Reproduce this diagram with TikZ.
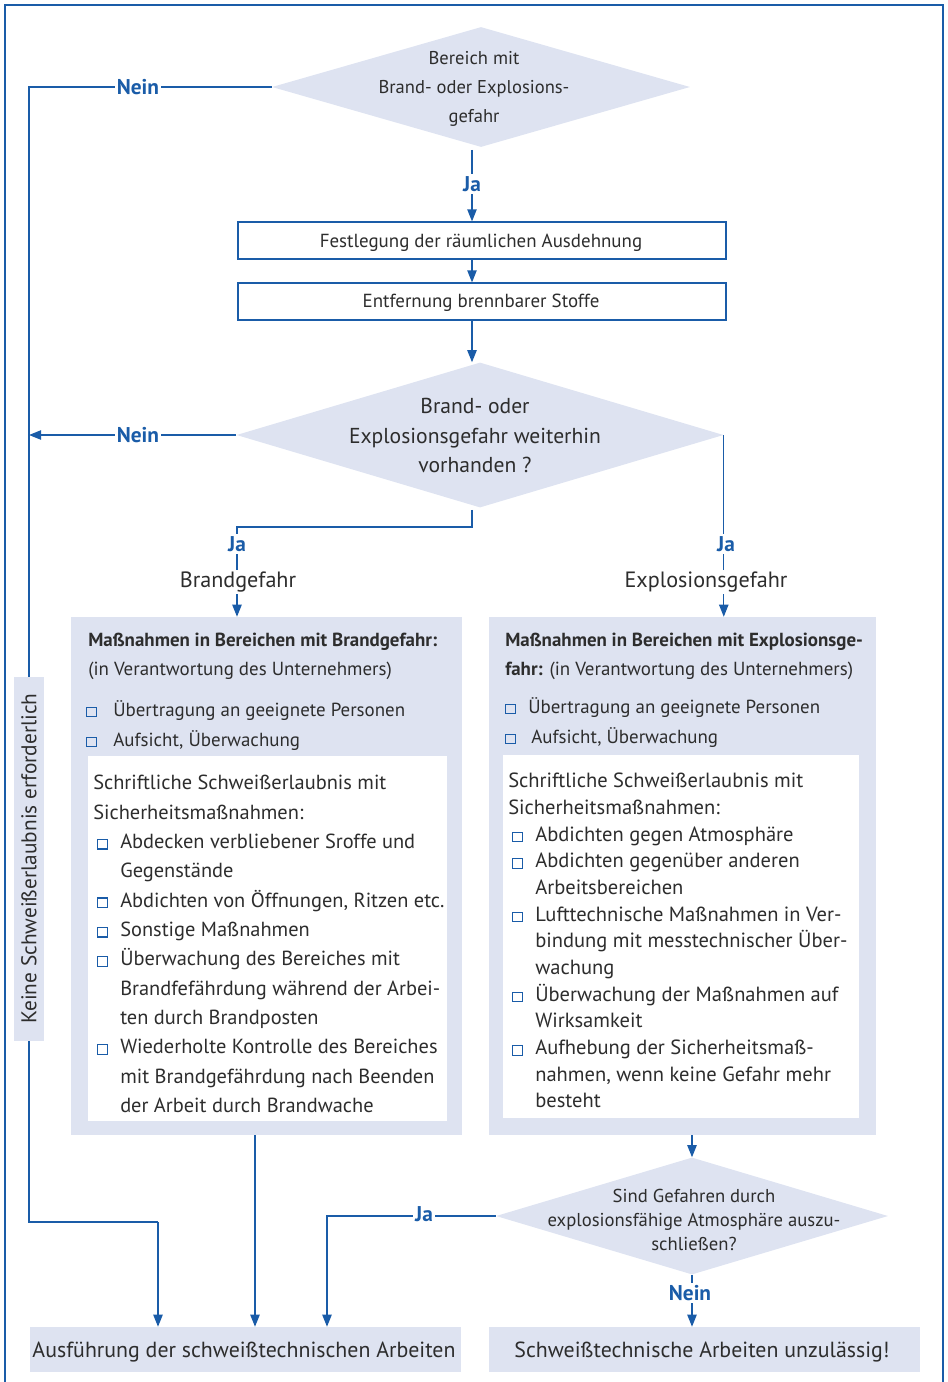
\documentclass[tikz,border=0pt]{standalone}
\usepackage{fontspec}
\setmainfont{PT Sans}
\usetikzlibrary{shapes.geometric,arrows.meta}

\definecolor{lineblue}{RGB}{26,92,168}
\definecolor{boxfill}{RGB}{222,227,241}
\definecolor{txtgray}{RGB}{45,45,45}

% open square bullet
\newcommand{\bx}{\textcolor{lineblue}{\fboxsep=0pt\fboxrule=0.9pt\fbox{\rule{0pt}{6.4pt}\rule{6.4pt}{0pt}}}}
\newcommand{\sqi}[1]{\makebox[#1][l]{\bx}}
\newcommand{\itm}{\hspace*{3pt}\sqi{17.25pt}}
\newcommand{\gap}{\hspace*{20.25pt}}

\tikzset{
  decision/.style={diamond, fill=boxfill, inner sep=0pt},
  stepbox/.style={rectangle, draw=lineblue, line width=0.9pt, fill=white, inner sep=0pt},
  panel/.style={rectangle, fill=boxfill, inner sep=0pt},
  sheet/.style={rectangle, fill=white, inner sep=0pt},
  txt/.style={text=txtgray, inner sep=0pt, align=center},
  lefttxt/.style={text=txtgray, inner sep=0pt, align=left, anchor=north west},
  yn/.style={text=lineblue, font=\fontsize{16}{18}\selectfont\bfseries, fill=white, inner sep=1.5pt},
  onwire/.style={text=txtgray, font=\fontsize{16.6}{19}\selectfont, fill=white, inner sep=1pt},
  conn/.style={draw=lineblue, line width=0.9pt},
  arr/.style={conn, -{Triangle[length=9pt,width=7pt]}},
  frame/.style={draw=lineblue, line width=2.2pt}
}

\begin{document}
\begin{tikzpicture}[x=0.75pt,y=0.75pt,yscale=-1,xscale=1]
\useasboundingbox (0,0) rectangle (948,1382);

% Frame
\draw[frame] (5,1382) -- (5,5) -- (943,5) -- (943,1382);

% Decision: Bereich mit Brand- oder Explosionsgefahr
\node[decision, minimum width=313.5pt, minimum height=90pt] (d1) at (481,87) {};
\node[txt, font=\fontsize{13.9}{22}\selectfont] (d1t) at (474,89) {Bereich mit\\Brand- oder Explosions-\\gefahr};

% Steps
\node[stepbox, minimum width=366pt, minimum height=27.75pt] (b1) at (482,240.5) {};
\node[txt, font=\fontsize{14.2}{16}\selectfont] (b1t) at (481,243) {Festlegung der räumlichen Ausdehnung};
\node[stepbox, minimum width=366pt, minimum height=27.75pt] (b2) at (482,301.5) {};
\node[txt, font=\fontsize{14.2}{16}\selectfont] (b2t) at (481,302.5) {Entfernung brennbarer Stoffe};

% Decision: weiterhin vorhanden
\node[decision, minimum width=365.25pt, minimum height=108.75pt] (d2) at (480,435) {};
\node[txt, font=\fontsize{16.2}{22}\selectfont] (d2t) at (475,435.5) {Brand- oder\\Explosionsgefahr weiterhin\\vorhanden ?};

% Panel Brandgefahr
\node[panel, minimum width=293.25pt, minimum height=388.5pt] (L) at (266.5,876) {};
\node[lefttxt, font=\fontsize{14.2}{21.75}\selectfont] (Lt) at (88,626) {\strut\textbf{Maßnahmen in Bereichen mit Brandgefahr:}\\(in Verantwortung des Unternehmers)};
\node[lefttxt, font=\fontsize{14.2}{22.5}\selectfont] (Lb) at (86,695) {\strut\sqi{20.25pt}Übertragung an geeignete Personen\\\sqi{20.25pt}Aufsicht, Überwachung};
\node[sheet, minimum width=269.25pt, minimum height=273.75pt] (Li) at (267.5,938.5) {};
\node[lefttxt, font=\fontsize{15.3}{22}\selectfont] (Lit) at (93,769) {\strut Schriftliche Schweißerlaubnis mit\\
Sicherheitsmaßnahmen:\\
\itm Abdecken verbliebener Sroffe und\\
\gap Gegenstände\\
\itm Abdichten von Öffnungen, Ritzen etc.\\
\itm Sonstige Maßnahmen\\
\itm Überwachung des Bereiches mit\\
\gap Brandfefährdung während der Arbei-\\
\gap ten durch Brandposten\\
\itm Wiederholte Kontrolle des Bereiches\\
\gap mit Brandgefährdung nach Beenden\\
\gap der Arbeit durch Brandwache};

% Panel Explosionsgefahr
\node[panel, minimum width=290.25pt, minimum height=388.5pt] (R) at (682.5,876) {};
\node[lefttxt, font=\fontsize{14.2}{21.75}\selectfont] (Rt) at (505,626) {\strut\textbf{Maßnahmen in Bereichen mit Explosionsge-}\\\textbf{fahr:} (in Verantwortung des Unternehmers)};
\node[lefttxt, font=\fontsize{14.2}{22.5}\selectfont] (Rb) at (505,692) {\strut\sqi{17.25pt}Übertragung an geeignete Personen\\\sqi{19.5pt}Aufsicht, Überwachung};
\node[sheet, minimum width=267pt, minimum height=272.25pt] (Ri) at (681,936.5) {};
\node[lefttxt, font=\fontsize{15.4}{20}\selectfont] (Rit) at (508,769) {\strut Schriftliche Schweißerlaubnis mit\\
Sicherheitsmaßnahmen:\\
\itm Abdichten gegen Atmosphäre\\
\itm Abdichten gegenüber anderen\\
\gap Arbeitsbereichen\\
\itm Lufttechnische Maßnahmen in Ver-\\
\gap bindung mit messtechnischer Über-\\
\gap wachung\\
\itm Überwachung der Maßnahmen auf\\
\gap Wirksamkeit\\
\itm Aufhebung der Sicherheitsmaß-\\
\gap nahmen, wenn keine Gefahr mehr\\
\gap besteht};

% Decision: explosionsfaehige Atmosphaere
\node[decision, minimum width=294pt, minimum height=87.75pt] (d3) at (692,1216) {};
\node[txt, font=\fontsize{14}{18}\selectfont] (d3t) at (694,1220) {Sind Gefahren durch\\explosionsfähige Atmosphäre auszu-\\schließen?};

% Results
\node[panel, minimum width=323.25pt, minimum height=33.75pt] (BL) at (245.5,1349.5) {};
\node[txt, font=\fontsize{16.4}{18}\selectfont] (BLt) at (244,1352) {Ausführung der schweißtechnischen Arbeiten};
\node[panel, minimum width=323.25pt, minimum height=33.75pt] (BR) at (704.5,1349.5) {};
\node[txt, font=\fontsize{16.4}{18}\selectfont] (BRt) at (702,1352) {Schweißtechnische Arbeiten unzulässig!};

% Helper coordinates
\coordinate (ax) at (472,0);
\coordinate (lft) at (29,1222);
\coordinate (lin) at (158,1222);
\coordinate (j1) at (237,527);
\coordinate (lx) at (255,0);
\coordinate (jx) at (327,0);

% Connectors
\draw[arr] ([yshift=2pt]d1.south -| ax) -- (b1.north -| ax);
\draw[arr] (b1.south -| ax) -- (b2.north -| ax);
\draw[arr] (b2.south -| ax) -- (d2.north -| ax);
\draw[conn] (d1.west) -| (lft) -- (lin);
\draw[arr] (lin) -- (lin |- BL.north);
\draw[arr] (d2.west) -- (d2.west -| lft);
\draw[arr] ([yshift=1.5pt]d2.south -| ax) |- (j1) -- (j1 |- L.north);
\draw[arr] (d2.east) -- (d2.east |- R.north);
\draw[arr] (L.south -| lx) -- (BL.north -| lx);
\draw[arr] (R.south -| d3.north) -- (d3.north);
\draw[arr] (d3.west) -| (jx |- BL.north);
\draw[arr] (d3.south) -- (d3.south |- BR.north);

% Side note
\node[panel, rotate=90, minimum width=273pt, minimum height=22.5pt, font=\fontsize{16}{18}\selectfont, text=txtgray] (K) at (29,858.5) {Keine Schweißerlaubnis erforderlich};

% Labels on connectors
\node[yn] (n1) at (138,87) {Nein};
\node[yn] (y1) at (472,184) {Ja};
\node[yn] (n2) at (138,435) {Nein};
\node[yn] (y2) at (237,544) {Ja};
\node[yn] (y3) at (726,544) {Ja};
\node[onwire] (wb) at (238,582) {Brandgefahr};
\node[onwire] (we) at (706,582) {Explosionsgefahr};
\node[yn] (y4) at (424,1214) {Ja};
\node[yn] (n3) at (690,1293) {Nein};

\end{tikzpicture}
\end{document}
